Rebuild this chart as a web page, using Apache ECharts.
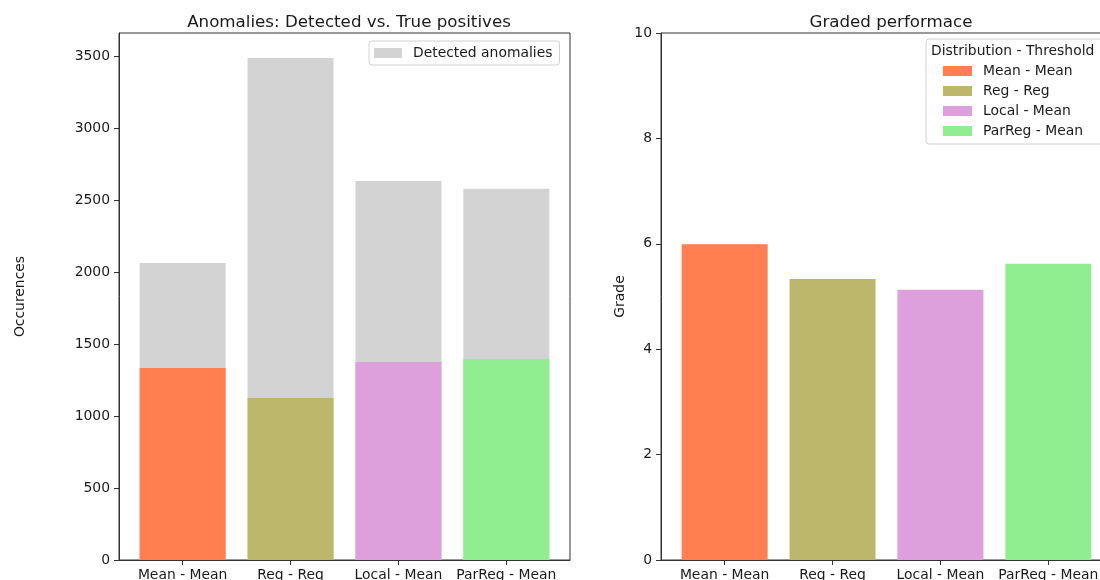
<!DOCTYPE html>
<html><head><meta charset="utf-8">
<script src="https://cdn.jsdelivr.net/npm/echarts@6/dist/echarts.min.js"></script>
<style>html,body{margin:0;padding:0;background:#fff}#c{width:1100px;height:580px}</style>
</head><body><div id="c"></div>
<script>
const categories = ['Mean - Mean', 'Reg - Reg', 'Local - Mean', 'ParReg - Mean'];
const detectedAnomalies = [2062, 3486, 2632, 2578];
const truePositives = [1333, 1125, 1375, 1396];
const grades = [5.99, 5.33, 5.13, 5.62];
const barColors = ['#FF7F50', '#BDB76B', '#DDA0DD', '#90EE90'];
const countTicks = [0, 500, 1000, 1500, 2000, 2500, 3000, 3500];
const gradeTicks = [0, 2, 4, 6, 8, 10];
const categoryTicks = [0, 1, 2, 3];

const FONT = 'DejaVu Sans';
const TXT = '#1a1a1a';
const AX = '#333';
const TICK = 13.9;

const chart = echarts.init(document.getElementById('c'), null, {renderer: 'canvas'});

function xAxisFor(gridIndex) {
  return {
    type: 'value', gridIndex, min: -0.59, max: 3.59,
    axisLine: {show: true, onZero: false, lineStyle: {color: AX, width: 1}},
    axisTick: {show: true, length: 5, lineStyle: {color: AX}, customValues: categoryTicks},
    axisLabel: {show: true, customValues: categoryTicks, margin: 8, color: TXT, fontFamily: FONT, fontSize: TICK,
      formatter: v => categories[Math.round(v)]},
    splitLine: {show: false}
  };
}

function yAxisFor(gridIndex, max, ticks, name, gap) {
  return {
    type: 'value', gridIndex, min: 0, max,
    name, nameLocation: 'middle', nameGap: gap, nameRotate: 90,
    nameTextStyle: {fontFamily: FONT, fontSize: TICK, color: TXT},
    axisLine: {show: true, onZero: false, lineStyle: {color: AX}},
    axisTick: {show: true, length: 5, lineStyle: {color: AX}, customValues: ticks},
    axisLabel: {customValues: ticks, margin: 9, color: TXT, fontFamily: FONT, fontSize: TICK,
      formatter: v => String(v)},
    splitLine: {show: false}
  };
}

const series = [
  {
    name: 'Detected anomalies', type: 'bar', xAxisIndex: 0, yAxisIndex: 0,
    barWidth: 86, barGap: '-100%',
    itemStyle: {color: '#D3D3D3'},
    data: detectedAnomalies.map((v, i) => [i, v]),
    silent: true
  },
  {
    name: 'True positives', type: 'bar', xAxisIndex: 0, yAxisIndex: 0,
    barWidth: 86, barGap: '-100%',
    data: truePositives.map((v, i) => ({value: [i, v], itemStyle: {color: barColors[i]}})),
    silent: true
  }
];
categories.forEach((c, i) => {
  series.push({
    name: c, type: 'bar', xAxisIndex: 1, yAxisIndex: 1,
    barWidth: 86, barGap: '-100%',
    itemStyle: {color: barColors[i]},
    data: [[i, grades[i]]],
    silent: true
  });
});

chart.setOption({
  animation: false,
  backgroundColor: '#fff',
  title: [
    {text: 'Anomalies: Detected vs. True positives', left: 344, top: 9, textAlign: 'center',
      textStyle: {fontFamily: FONT, fontSize: 16.7, fontWeight: 'normal', color: TXT}},
    {text: 'Graded performace', left: 886, top: 9, textAlign: 'center',
      textStyle: {fontFamily: FONT, fontSize: 16.7, fontWeight: 'normal', color: TXT}}
  ],
  legend: [
    {
      data: ['Detected anomalies'], left: 369, top: 41,
      padding: [5, 7, 5, 5], borderColor: '#d0d0d0', borderWidth: 1, borderRadius: 3,
      backgroundColor: 'rgba(255,255,255,0.8)',
      itemWidth: 28, itemHeight: 10, icon: 'rect',
      textStyle: {fontFamily: FONT, fontSize: TICK, color: TXT, padding: [0, 0, 0, 6]},
      selectedMode: false
    },
    {
      data: categories, left: 926, top: 39, orient: 'vertical',
      padding: [24, 40, 5, 17], borderColor: '#d0d0d0', borderWidth: 1, borderRadius: 3,
      backgroundColor: 'rgba(255,255,255,0.8)',
      itemWidth: 29, itemHeight: 10, itemGap: 4, icon: 'rect',
      textStyle: {fontFamily: FONT, fontSize: TICK, color: TXT, lineHeight: 16, padding: [0, 0, 0, 6]},
      selectedMode: false
    }
  ],
  graphic: [
    {type: 'text', left: 931, top: 44, z: 100,
      style: {text: 'Distribution - Threshold', fontFamily: FONT, fontSize: TICK, fill: TXT}}
  ],
  grid: [
    {left: 119, top: 33, width: 451, height: 527, show: true, borderColor: AX, borderWidth: 1,
      backgroundColor: 'transparent', outerBoundsMode: 'none', containLabel: false},
    {left: 661, top: 33, width: 451, height: 527, show: true, borderColor: AX, borderWidth: 1,
      backgroundColor: 'transparent', outerBoundsMode: 'none', containLabel: false}
  ],
  xAxis: [xAxisFor(0), xAxisFor(1)],
  yAxis: [
    yAxisFor(0, 3660, countTicks, 'Occurences', 92),
    yAxisFor(1, 10, gradeTicks, 'Grade', 34)
  ],
  series
});
</script></body></html>
